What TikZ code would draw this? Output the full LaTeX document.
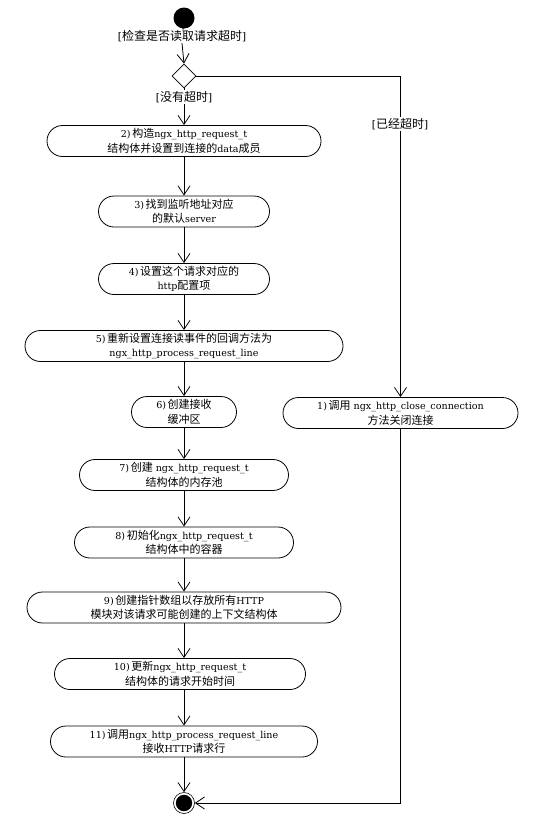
\documentclass[tikz,border=0pt]{standalone}
\usepackage{fontspec}
\setmainfont{DejaVu Serif}[Scale=0.87]
\newfontfamily\cjkf{Noto Sans CJK SC}
\newcommand\zh[1]{{\cjkf #1}}
\usetikzlibrary{arrows.meta,shapes.geometric}
\begin{document}
\begin{tikzpicture}[x=1pt,y=-1pt,
  line width=0.8pt,
  act/.style={draw, rounded corners=15.5pt, minimum height=31pt, inner sep=0pt,
    align=center, font=\fontsize{11}{14.5}\selectfont},
  lbl/.style={fill=white, inner sep=1pt, font=\fontsize{12}{14}\selectfont},
  arr/.style={-{Straight Barb[length=9pt,width=12pt]}}]
\useasboundingbox (0,0) rectangle (533,817);

% start / decision
\node[circle, fill=black, minimum size=21pt, inner sep=0pt] (start) at (184,18) {};
\node[lbl] (chk) at (182,36) {[\zh{检查是否读取请求超时}]};
\node[diamond, draw, fill=white, minimum width=24pt, minimum height=24pt, inner sep=0pt] (dia) at (184,76) {};
\node[lbl] (nohit) at (184,97) {[\zh{没有超时}]};

% activities
\node[act, minimum width=274pt] (b2) at (184,141)
  {2)\,\zh{构造}ngx\_http\_request\_t\\\zh{结构体并设置到连接的}data\zh{成员}};
\node[act, minimum width=171pt] (b3) at (184,211.5)
  {3)\,\zh{找到监听地址对应}\\\zh{的默认}server};
\node[act, minimum width=171pt] (b4) at (184,279)
  {4)\,\zh{设置这个请求对应的}\\http\zh{配置项}};
\node[act, minimum width=318pt] (b5) at (184,346)
  {5)\,\zh{重新设置连接读事件的回调方法为}\\ngx\_http\_process\_request\_line};
\node[act, minimum width=105pt] (b6) at (184,412)
  {6)\,\zh{创建接收}\\\zh{缓冲区}};
\node[act, minimum width=235pt] (b1) at (400.5,413)
  {1)\,\zh{调用} ngx\_http\_close\_connection\\\zh{方法关闭连接}};
\node[act, minimum width=209pt] (b7) at (184,475)
  {7)\,\zh{创建} ngx\_http\_request\_t\\\zh{结构体的内存池}};
\node[act, minimum width=219pt] (b8) at (184,542.5)
  {8)\,\zh{初始化}ngx\_http\_request\_t\\\zh{结构体中的容器}};
\node[act, minimum width=314pt] (b9) at (184,607.5)
  {9)\,\zh{创建指针数组以存放所有}HTTP\\\zh{模块对该请求可能创建的上下文结构体}};
\node[act, minimum width=251pt] (b10) at (180,674)
  {10)\,\zh{更新}ngx\_http\_request\_t\\\zh{结构体的请求开始时间}};
\node[act, minimum width=267pt] (b11) at (184,741.5)
  {11)\,\zh{调用}ngx\_http\_process\_request\_line\\\zh{接收}HTTP\zh{请求行}};

% end
\node[circle, draw, minimum size=21pt, inner sep=0pt, line width=0.6pt] (end) at (184,803) {};
\fill (end.center) circle (8.2pt);

% connectors
\draw (start.south) -- (chk.north);
\draw[arr] (chk.south) -- (dia.north);
\draw (dia.south) -- (nohit.north);
\draw[arr] (nohit.south) -- (b2.north);
\draw[arr] (b2.south) -- (b3.north);
\draw[arr] (b3.south) -- (b4.north);
\draw[arr] (b4.south) -- (b5.north);
\draw[arr] (b5.south) -- (b6.north);
\draw[arr] (b6.south) -- (b7.north);
\draw[arr] (b7.south) -- (b8.north);
\draw[arr] (b8.south) -- (b9.north);
\draw[arr] (b9.south) -- (b9.south |- b10.north);
\draw[arr] (b10.south -| b11.north) -- (b11.north);
\draw[arr] (b11.south) -- (end.north);
\draw[arr] (dia.east) -| (b1.north);
\draw[arr] (b1.south) |- (end.east);
\node[lbl] (hit) at (400,124) {[\zh{已经超时}]};
\end{tikzpicture}
\end{document}
